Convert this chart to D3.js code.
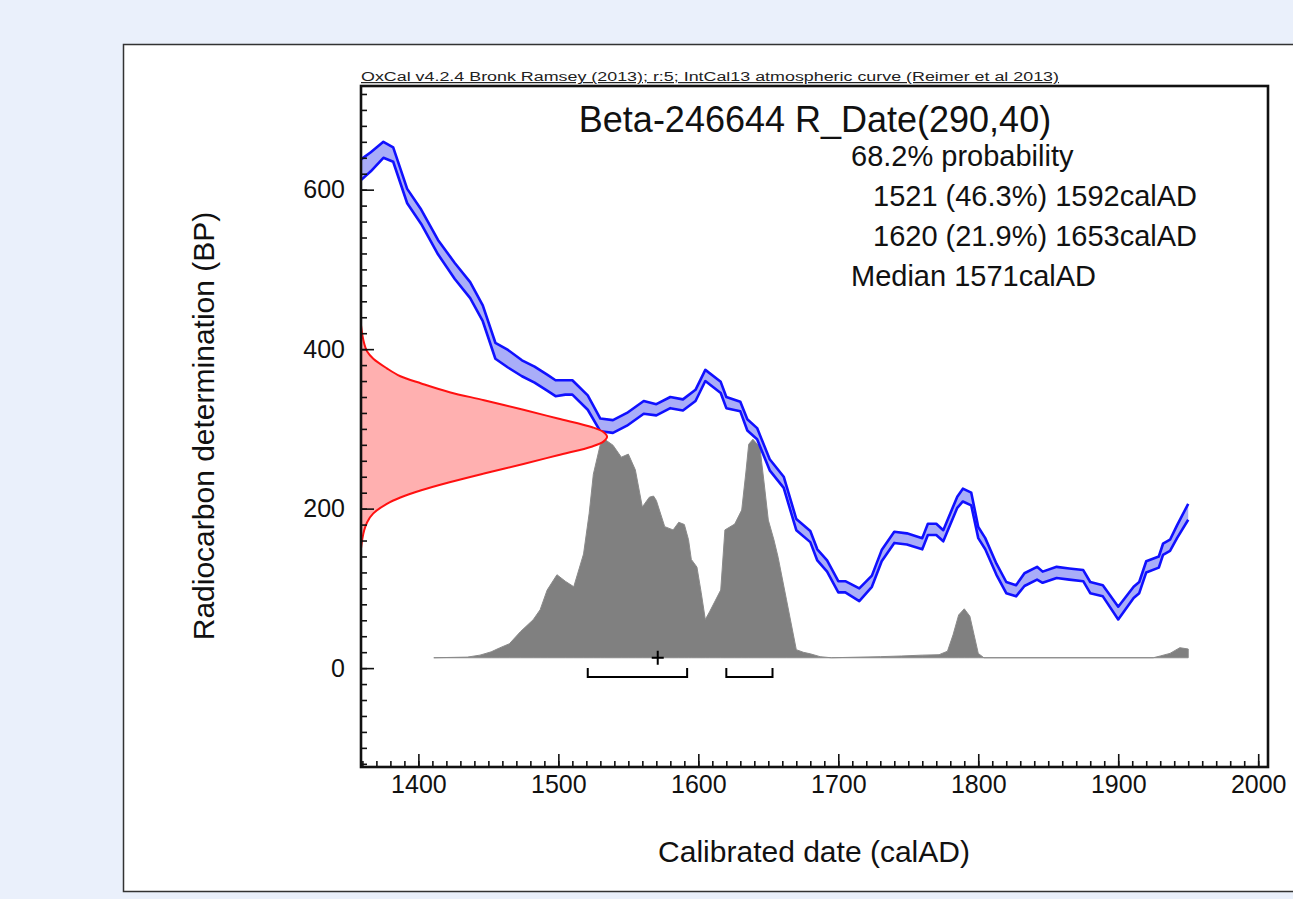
<!DOCTYPE html>
<html>
<head>
<meta charset="utf-8">
<script src="https://cdn.jsdelivr.net/npm/d3@7"></script>
<style>
  body { margin: 0; background: #eaf0fb; }
  svg { display: block; font-family: "Liberation Sans", Arial, Helvetica, sans-serif; }
</style>
</head>
<body>
<svg width="1293" height="899"></svg>
<script>
// calibration curve (IntCal13): centre and 1 sigma in BP
let calYears = [1359, 1366, 1375, 1382, 1392, 1402, 1414, 1426, 1437, 1446, 1455, 1464, 1474, 1483, 1492, 1498, 1505, 1510, 1521, 1530,
  1539, 1549, 1561, 1570, 1580, 1589, 1598, 1605, 1616, 1620, 1630, 1635, 1642, 1651, 1661, 1670, 1680, 1685, 1692, 1700,
  1705, 1715, 1724, 1731, 1740, 1749, 1760, 1764, 1770, 1775, 1785, 1789, 1795, 1800, 1805, 1813, 1820, 1827, 1833, 1842,
  1846, 1856, 1865, 1875, 1880, 1889, 1900, 1911, 1915, 1920, 1929, 1932, 1937, 1942, 1950];
let calBP = [625, 635, 650, 644, 592, 566, 528, 498, 474, 445, 398, 388, 376, 368, 358, 351, 352, 352, 333, 305,
  303, 312, 327, 324, 333, 330, 342, 367, 352, 333, 328, 305, 294, 255, 233, 180, 165, 142, 128, 102,
  102, 92, 109, 141, 164, 162, 156, 174, 174, 166, 208, 217, 212, 170, 156, 124, 101, 97, 111, 119,
  114, 120, 118, 116, 101, 97, 69, 95, 101, 127, 133, 149, 154, 171, 196];
let calSigma = [13, 12, 10, 9, 9, 9, 9, 10, 10, 10, 10, 11, 10, 10, 10, 10, 9, 9, 9, 8,
  8, 8, 8, 7, 7, 7, 7, 7, 7, 7, 6, 7, 7, 7, 7, 7, 7, 7, 7, 7,
  7, 8, 7, 7, 7, 7, 7, 7, 7, 7, 7, 8, 8, 7, 7, 7, 7, 7, 8, 8,
  7, 7, 7, 7, 7, 7, 8, 7, 7, 7, 7, 7, 7, 8, 10];

// calibrated probability (relative to max)
let probYears = [1411, 1435, 1444, 1452, 1458, 1465, 1473, 1482, 1487, 1492, 1499, 1505, 1511, 1518, 1522, 1525, 1530, 1533, 1539, 1545,
  1550, 1555, 1560, 1565, 1568, 1570, 1576, 1582, 1586, 1590, 1593, 1595, 1599, 1602, 1605, 1608, 1612, 1616, 1619, 1626,
  1631, 1634, 1636, 1639, 1644, 1647, 1650, 1654, 1657, 1663, 1670, 1675, 1680, 1687, 1695, 1730, 1745, 1760, 1772, 1778,
  1782, 1786, 1790, 1794, 1797, 1800, 1804, 1925, 1930, 1937, 1944, 1947, 1950];
let probValues = [0, 0.003, 0.012, 0.027, 0.045, 0.064, 0.12, 0.174, 0.22, 0.31, 0.38, 0.35, 0.325, 0.475, 0.66, 0.84, 0.977, 1.0, 0.973, 0.918,
  0.932, 0.86, 0.69, 0.735, 0.74, 0.72, 0.6, 0.585, 0.62, 0.61, 0.54, 0.45, 0.415, 0.3, 0.175, 0.21, 0.26, 0.31, 0.585, 0.612,
  0.676, 0.85, 0.977, 1.0, 0.963, 0.8, 0.63, 0.54, 0.46, 0.265, 0.037, 0.025, 0.018, 0.005, 0, 0.005, 0.008, 0.012, 0.014, 0.03,
  0.105, 0.196, 0.224, 0.19, 0.105, 0.02, 0, 0, 0.008, 0.02, 0.046, 0.043, 0.04];

// measured date R_Date(290,40) drawn on the y axis
let measBP = [150, 163, 173, 183, 194, 206, 214, 223, 233, 244, 256, 267, 278, 284, 290,
  296, 302, 313, 324, 336, 346, 357, 366, 376, 388, 397, 407, 417, 430];
let measDensity = [0, 0.006, 0.013, 0.025, 0.05, 0.105, 0.16, 0.245, 0.36, 0.5, 0.66, 0.8, 0.94, 0.985, 1,
  0.985, 0.94, 0.8, 0.66, 0.5, 0.36, 0.245, 0.16, 0.105, 0.05, 0.025, 0.013, 0.006, 0];

let rangeStarts = [1521, 1620];
let rangeEnds = [1592, 1653];
let medianYear = 1571;

let xTickLabels = [1400, 1500, 1600, 1700, 1800, 1900, 2000];
let yTickLabels = [0, 200, 400, 600];

let headerText = "OxCal v4.2.4 Bronk Ramsey (2013); r:5; IntCal13 atmospheric curve (Reimer et al 2013)";
let titleText = "Beta-246644 R_Date(290,40)";
let infoLines = ["68.2% probability", "1521 (46.3%) 1592calAD", "1620 (21.9%) 1653calAD", "Median 1571calAD"];
let infoIndent = [0, 22, 22, 0];

let svg = d3.select("svg");

// white panel
svg.append("rect")
  .attr("x", 123.5).attr("y", 44.5)
  .attr("width", 1200).attr("height", 847)
  .attr("fill", "white").attr("stroke", "#333").attr("stroke-width", 1.5);

let margin = { top: 86, left: 361 };
let plotWidth = 907;
let plotHeight = 681;

let plot = svg.append("g").attr("transform", "translate(" + margin.left + "," + margin.top + ")");

let xScale = d3.scaleLinear().domain([1359, 2007]).range([0, plotWidth]);
let yScale = d3.scaleLinear().domain([-124, 730]).range([plotHeight, 0]);
// probability heights sit on a baseline a little above 0 BP
let probScale = d3.scaleLinear().domain([0, 1]).range([yScale(13), yScale(287)]);
let densScale = d3.scaleLinear().domain([0, 1]).range([xScale(1359), xScale(1534.8)]);

// gray calibrated distribution
let probData = probYears.map(function(d, i) { return { x: d, p: probValues[i] }; });
plot.append("path")
  .datum(probData)
  .attr("fill", "#808080")
  .attr("stroke", "#8a8a8a")
  .attr("stroke-width", 1)
  .attr("d", d3.area()
    .x(function(d) { return xScale(d.x); })
    .y0(probScale(0))
    .y1(function(d) { return probScale(d.p); }));

// calibration curve band
let calData = calYears.map(function(d, i) { return { x: d, bp: calBP[i], s: calSigma[i] }; });
plot.append("path")
  .datum(calData)
  .attr("fill", "#a9adf8")
  .attr("d", d3.area()
    .x(function(d) { return xScale(d.x); })
    .y0(function(d) { return yScale(d.bp - d.s); })
    .y1(function(d) { return yScale(d.bp + d.s); }));

[1, -1].forEach(function(sign) {
  plot.append("path")
    .datum(calData)
    .attr("fill", "none")
    .attr("stroke", "#1010ff")
    .attr("stroke-width", 2.6)
    .attr("stroke-linejoin", "round")
    .attr("d", d3.line()
      .x(function(d) { return xScale(d.x); })
      .y(function(d) { return yScale(d.bp + sign * d.s); }));
});

// measured radiocarbon date on the y axis
let measData = measBP.map(function(d, i) { return { bp: d, v: measDensity[i] }; });
plot.append("path")
  .datum(measData)
  .attr("fill", "#ffb0b0")
  .attr("stroke", "#ff1010")
  .attr("stroke-width", 2)
  .attr("d", d3.area()
    .curve(d3.curveCatmullRom)
    .y(function(d) { return yScale(d.bp); })
    .x0(densScale(0))
    .x1(function(d) { return densScale(d.v); }));

// 68.2% range brackets
rangeStarts.forEach(function(s, i) {
  let e = rangeEnds[i];
  plot.append("path")
    .attr("fill", "none")
    .attr("stroke", "black")
    .attr("stroke-width", 2)
    .attr("d", "M" + xScale(s) + "," + yScale(0) + "V" + yScale(-11) + "H" + xScale(e) + "V" + yScale(0));
});

// median cross
let mx = xScale(medianYear), my = probScale(0);
plot.append("path")
  .attr("stroke", "black").attr("stroke-width", 2)
  .attr("d", "M" + (mx - 6) + "," + my + "H" + (mx + 6) + "M" + mx + "," + (my - 7) + "V" + (my + 7));

// axes: ticks point inside the plot
let xMinor = plot.append("g").attr("transform", "translate(0," + plotHeight + ")")
  .call(d3.axisBottom(xScale).tickValues(d3.range(1360, 2010, 10)).tickSize(-6).tickFormat(""));
let xMajor = plot.append("g").attr("transform", "translate(0," + plotHeight + ")")
  .call(d3.axisBottom(xScale).tickValues(xTickLabels).tickSize(-13).tickPadding(8).tickFormat(d3.format("d")));
let yMinor = plot.append("g")
  .call(d3.axisLeft(yScale).tickValues(d3.range(-120, 730, 20)).tickSize(-6).tickFormat(""));
let yMajor = plot.append("g")
  .call(d3.axisLeft(yScale).tickValues(yTickLabels).tickSize(-13).tickPadding(16).tickFormat(d3.format("d")));

[xMinor, xMajor, yMinor, yMajor].forEach(function(g) {
  g.select(".domain").remove();
  g.selectAll(".tick line").attr("stroke", "#111").attr("stroke-width", 1.6);
  g.selectAll("text").attr("font-size", 25).attr("fill", "#111").attr("font-family", "Liberation Sans, Arial, sans-serif");
});

// plot frame
plot.append("rect")
  .attr("width", plotWidth).attr("height", plotHeight)
  .attr("fill", "none").attr("stroke", "#111").attr("stroke-width", 2.6);

// texts
svg.append("text")
  .attr("x", 361).attr("y", 81)
  .attr("font-size", 12)
  .attr("textLength", 698).attr("lengthAdjust", "spacingAndGlyphs")
  .attr("fill", "#222")
  .attr("text-decoration", "underline")
  .text(headerText);

svg.append("text")
  .attr("x", 815).attr("y", 132)
  .attr("text-anchor", "middle")
  .attr("font-size", 36)
  .attr("fill", "#111")
  .text(titleText);

infoLines.forEach(function(t, i) {
  svg.append("text")
    .attr("x", 851 + infoIndent[i]).attr("y", 166 + i * 40)
    .attr("font-size", 29)
    .attr("fill", "#111")
    .text(t);
});

svg.append("text")
  .attr("x", 814).attr("y", 862)
  .attr("text-anchor", "middle")
  .attr("font-size", 30)
  .attr("fill", "#111")
  .text("Calibrated date (calAD)");

svg.append("text")
  .attr("transform", "translate(214,426) rotate(-90)")
  .attr("text-anchor", "middle")
  .attr("font-size", 30)
  .attr("fill", "#111")
  .text("Radiocarbon determination (BP)");
</script>
</body>
</html>
